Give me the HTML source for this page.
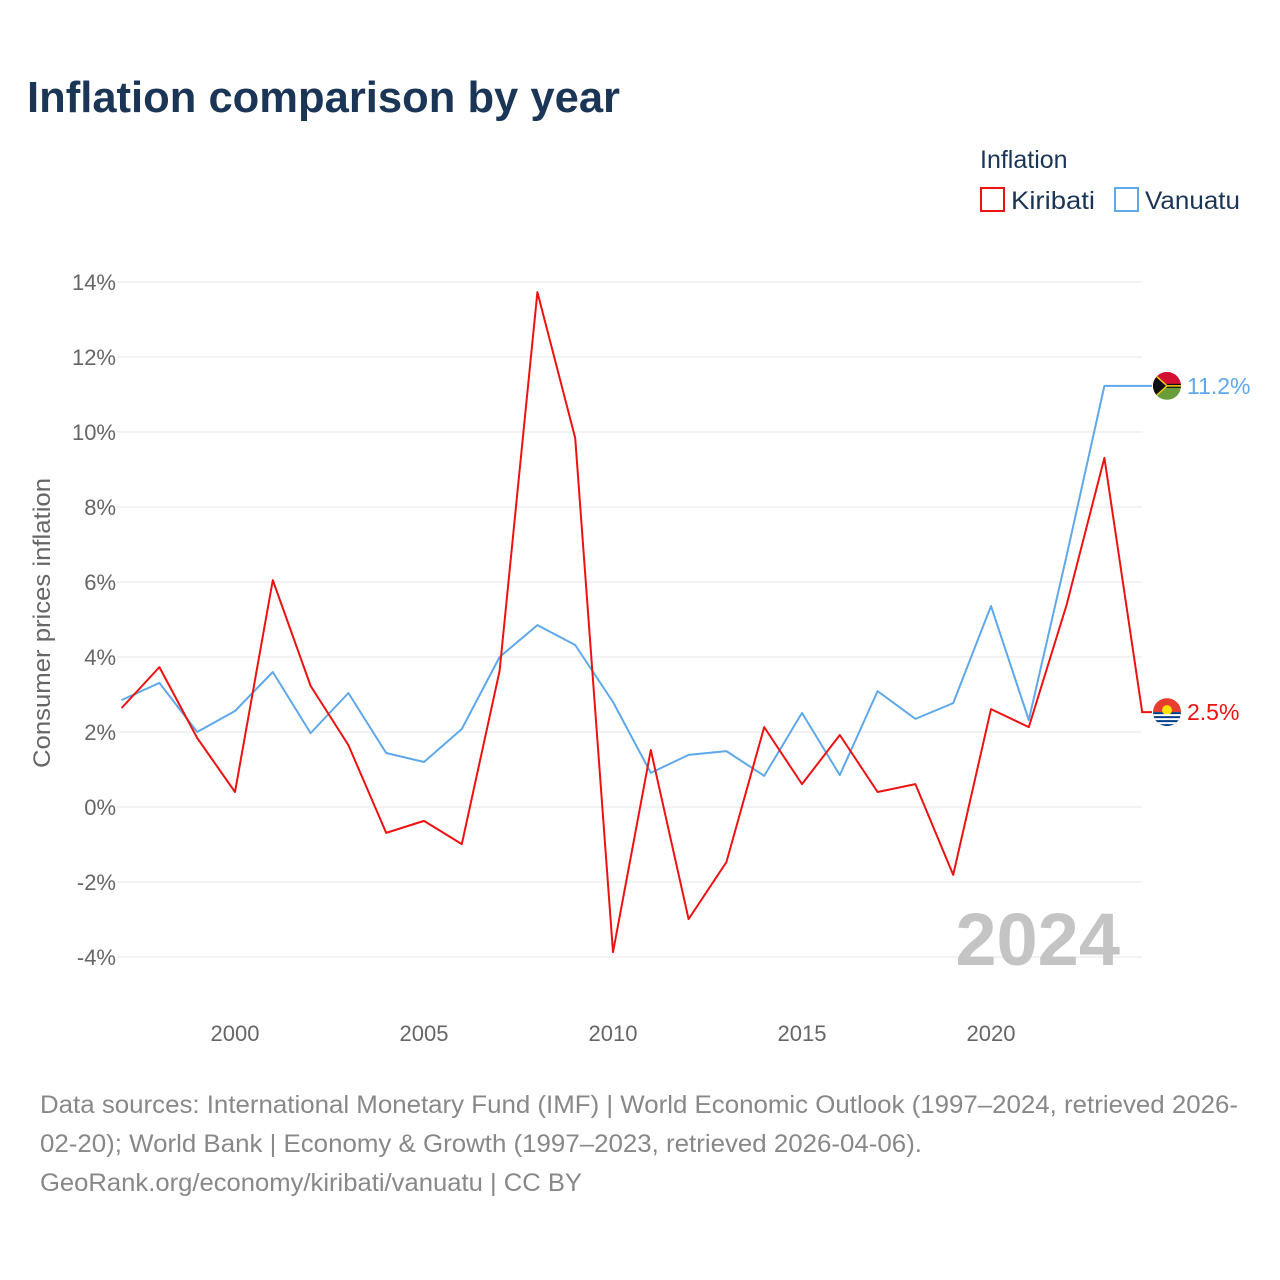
<!DOCTYPE html>
<html><head><meta charset="utf-8">
<style>
body{margin:0;background:#fff;font-family:"Liberation Sans",sans-serif;}
#wrap{position:relative;width:1280px;height:1280px;overflow:hidden;}
</style></head>
<body>
<div id="wrap">
<svg id="chart" width="1280" height="1280" style="font-family:'Liberation Sans',sans-serif">
<text x="27" y="112" font-size="44" font-weight="bold" fill="#1b3557" textLength="593" lengthAdjust="spacingAndGlyphs">Inflation comparison by year</text>
<text x="980" y="168" font-size="25" fill="#1b3557">Inflation</text>
<g>
<rect x="981" y="188" width="23" height="23" fill="none" stroke="#ee1111" stroke-width="2"/>
<text x="1011" y="209" font-size="25" fill="#1b3557" textLength="84" lengthAdjust="spacingAndGlyphs">Kiribati</text></g>
<g>
<rect x="1115" y="188" width="23" height="23" fill="none" stroke="#5fa8ea" stroke-width="2"/>
<text x="1145" y="209" font-size="25" fill="#1b3557" textLength="95" lengthAdjust="spacingAndGlyphs">Vanuatu</text></g>
<text transform="translate(50,623) rotate(-90)" text-anchor="middle" font-size="24" fill="#666" textLength="290" lengthAdjust="spacingAndGlyphs">Consumer prices inflation</text>
<g id="grid"></g><g id="yt"></g><g id="xt"></g>
<text x="1120" y="965" text-anchor="end" font-size="74" font-weight="bold" fill="#c4c4c4">2024</text>
<g id="series"></g>
<g font-size="25" fill="#888">
<text x="40" y="1113" textLength="1198" lengthAdjust="spacingAndGlyphs">Data sources: International Monetary Fund (IMF) | World Economic Outlook (1997–2024, retrieved 2026-</text>
<text x="40" y="1152" textLength="882" lengthAdjust="spacingAndGlyphs">02-20); World Bank | Economy &amp; Growth (1997–2023, retrieved 2026-04-06).</text>
<text x="40" y="1191" textLength="542" lengthAdjust="spacingAndGlyphs">GeoRank.org/economy/kiribati/vanuatu | CC BY</text></g>
</svg>
</div>
<script>
const years=[1997,1998,1999,2000,2001,2002,2003,2004,2005,2006,2007,2008,2009,2010,2011,2012,2013,2014,2015,2016,2017,2018,2019,2020,2021,2022,2023,2024];
const kiribati=[2.64,3.73,1.84,0.4,6.05,3.23,1.65,-0.69,-0.37,-0.99,3.63,13.73,9.84,-3.87,1.52,-2.99,-1.47,2.13,0.61,1.92,0.4,0.61,-1.81,2.61,2.13,5.39,9.31,2.53];
const vanuatu=[2.85,3.31,2.0,2.56,3.6,1.97,3.04,1.44,1.2,2.08,4.0,4.85,4.32,2.8,0.91,1.39,1.49,0.83,2.51,0.85,3.09,2.35,2.77,5.36,2.32,6.7,11.23];
const yTicks=[-4,-2,0,2,4,6,8,10,12,14];
const xTicks=[2000,2005,2010,2015,2020];
const NS='http://www.w3.org/2000/svg';
const X=y=>121.6+(y-1997)*37.8;
const Y=v=>807-v*37.5;
function mk(t,a,p){const e=document.createElementNS(NS,t);for(const k in a)e.setAttribute(k,a[k]);p.appendChild(e);return e;}
const grid=document.getElementById('grid'),yt=document.getElementById('yt'),xt=document.getElementById('xt'),ser=document.getElementById('series');
yTicks.forEach(v=>{
 const l=mk('line',{x1:117,x2:1142,y1:Y(v),y2:Y(v),stroke:'#e6e6e6','stroke-width':1},grid);
 
 
 const t=mk('text',{x:116,y:Y(v)+8,'text-anchor':'end','font-size':22,fill:'#666'},yt);
 t.textContent=v+'%';
 
 
});
xTicks.forEach(v=>{
 const t=mk('text',{x:X(v),y:1041,'text-anchor':'middle','font-size':22,fill:'#666'},xt);
 t.textContent=v;
 
 
});
function line(vals,col,name){
 let d=vals.map((v,i)=>(i?'L':'M')+X(years[i])+','+Y(v)).join(' ');
 const last=vals[vals.length-1];
 d+=' L1142,'+Y(last)+' L1152,'+Y(last);
 const p=mk('path',{d:d,fill:'none',stroke:col,'stroke-width':2,'stroke-linejoin':'round'},ser);
 
 
 return last;
}
const vl=line(vanuatu,'#5fa8ea','vanuatu');
const kl=line(kiribati,'#ee1111','kiribati');
function flagV(cy){
 const g=mk('g',{},ser);
 
 
 const cp=mk('clipPath',{id:'cv'},g);mk('circle',{cx:1167,cy:cy,r:14},cp);
 const gg=mk('g',{'clip-path':'url(#cv)'},g);
 mk('rect',{x:1153,y:cy-14,width:28,height:14,fill:'#d21034'},gg);
 mk('rect',{x:1153,y:cy,width:28,height:14,fill:'#6a9d3a'},gg);
 mk('rect',{x:1153,y:cy-2,width:28,height:4,fill:'#111'},gg);
 mk('polygon',{points:`1153,${cy-14} 1167,${cy} 1153,${cy+14}`,fill:'#111'},gg);
 mk('line',{x1:1156,y1:cy-10,x2:1167,y2:cy,stroke:'#fdce12','stroke-width':1.5},gg);
 mk('line',{x1:1156,y1:cy+10,x2:1167,y2:cy,stroke:'#fdce12','stroke-width':1.5},gg);
 mk('line',{x1:1167,y1:cy,x2:1181,y2:cy,stroke:'#fdce12','stroke-width':1.5},gg);
}
function flagK(cy){
 const g=mk('g',{},ser);
 
 
 const cp=mk('clipPath',{id:'ck'},g);mk('circle',{cx:1167,cy:cy,r:14},cp);
 const gg=mk('g',{'clip-path':'url(#ck)'},g);
 mk('rect',{x:1153,y:cy-14,width:28,height:14,fill:'#e73e2d'},gg);
 mk('rect',{x:1153,y:cy,width:28,height:14,fill:'#003f87'},gg);
 mk('circle',{cx:1167,cy:cy-2,r:5,fill:'#fce300'},gg);
 for(let i=0;i<3;i++)mk('rect',{x:1153,y:cy+2+i*4,width:28,height:2,fill:'#fff'},gg);
}
flagV(Y(vl));flagK(Y(kl));
const tv=mk('text',{x:1187,y:Y(vl)+8,'font-size':23,fill:'#5fa8ea'},ser);tv.textContent=vl.toFixed(1)+'%';


const tk=mk('text',{x:1187,y:Y(kl)+8,'font-size':23,fill:'#ee1111'},ser);tk.textContent=kl.toFixed(1)+'%';


</script>
</body></html>
